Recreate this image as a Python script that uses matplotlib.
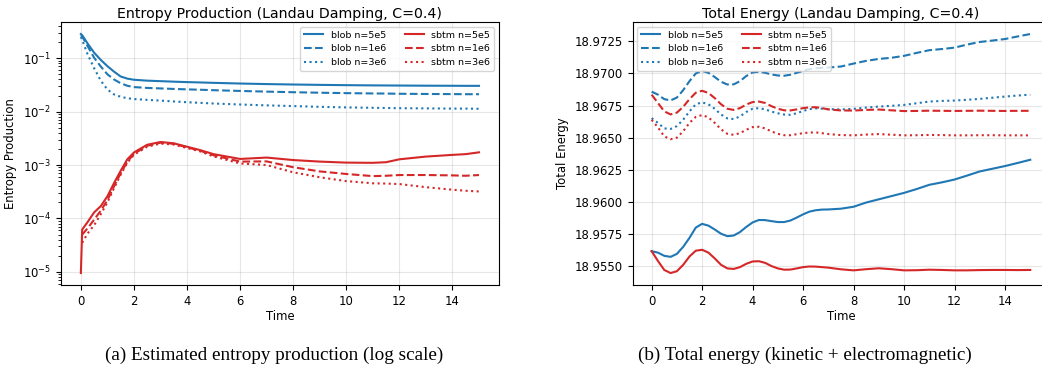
import numpy as np
import matplotlib
matplotlib.use("Agg")
import matplotlib.pyplot as plt
from matplotlib.ticker import MultipleLocator, FormatStrFormatter

# ---- entropy production ----
t_ent = [0, 0.05, 0.25, 0.5, 0.75, 1, 1.25, 1.5, 1.75, 2, 2.5, 3, 3.5, 4, 4.5, 5,
         6, 7, 8, 9, 10, 11, 11.5, 12, 13, 14, 14.5, 15]
nan = np.nan
ent_blob_5e5 = [0.284, 0.27, 0.19, 0.127, 0.093, 0.071, 0.056, 0.0455, 0.0415, 0.0395,
                0.038, 0.0372, 0.0364, 0.0357, 0.0352, 0.0346, 0.0336, 0.0328, 0.0322,
                0.0317, 0.0313, 0.031, 0.0309, 0.0308, 0.0306, 0.0305, 0.0304, 0.0304]
ent_blob_1e6 = [0.27, 0.255, 0.17, 0.102, 0.07, 0.05, 0.04, 0.034, 0.0305, 0.0288,
                0.0278, 0.0272, 0.0266, 0.0261, 0.0257, 0.0252, 0.0244, 0.0237, 0.0231,
                0.0226, 0.0222, 0.0219, 0.0218, 0.0216, 0.0214, 0.0213, 0.0212, 0.0212]
ent_blob_3e6 = [0.25, 0.22, 0.12, 0.065, 0.038, 0.026, 0.021, 0.019, 0.0178, 0.0172,
                0.0166, 0.0161, 0.0155, 0.015, 0.0146, 0.0142, 0.0136, 0.0131, 0.0127,
                0.0123, 0.012, 0.0118, 0.0117, 0.0116, 0.0115, 0.0114, 0.0114, 0.0113]
ent_sbtm_5e5 = [9.5e-6, 6.2e-5, 8.5e-5, 1.3e-4, 1.7e-4, 2.6e-4, 4.6e-4, 7.8e-4, 1.28e-3,
                1.72e-3, 2.4e-3, 2.7e-3, 2.55e-3, 2.2e-3, 1.9e-3, 1.6e-3, 1.3e-3, 1.38e-3,
                1.24e-3, 1.16e-3, 1.11e-3, 1.1e-3, 1.13e-3, 1.28e-3, 1.44e-3, 1.55e-3,
                1.6e-3, 1.73e-3]
ent_sbtm_1e6 = [nan, 5.0e-5, 6.5e-5, 9.5e-5, 1.4e-4, 2.2e-4, 4.0e-4, 7.0e-4, 1.15e-3,
                1.62e-3, 2.3e-3, 2.62e-3, 2.5e-3, 2.15e-3, 1.85e-3, 1.52e-3, 1.16e-3,
                1.17e-3, 9.1e-4, 7.6e-4, 6.8e-4, 6.2e-4, 6.3e-4, 6.5e-4, 6.5e-4, 6.4e-4,
                6.3e-4, 6.5e-4]
ent_sbtm_3e6 = [nan, 3.5e-5, 5.2e-5, 7.5e-5, 1.2e-4, 2.0e-4, 3.7e-4, 6.6e-4, 1.1e-3,
                1.56e-3, 2.2e-3, 2.52e-3, 2.42e-3, 2.08e-3, 1.8e-3, 1.45e-3, 1.07e-3,
                1.0e-3, 7.3e-4, 5.9e-4, 5.0e-4, 4.55e-4, 4.5e-4, 4.4e-4, 3.85e-4, 3.45e-4,
                3.3e-4, 3.2e-4]

# ---- total energy ----
t_en = [0, 0.25, 0.5, 0.75, 1, 1.25, 1.5, 1.75, 2, 2.25, 2.5, 2.75, 3, 3.25, 3.5, 3.75,
        4, 4.25, 4.5, 4.75, 5, 5.25, 5.5, 5.75, 6, 6.25, 6.5, 6.75, 7, 7.5, 8, 8.5, 9,
        9.5, 10, 10.5, 11, 11.5, 12, 12.5, 13, 13.5, 14, 14.5, 15]
en_blob_5e5 = [18.95616, 18.95605, 18.95580, 18.95572, 18.95595, 18.95650, 18.95720,
               18.95800, 18.95829, 18.95815, 18.95785, 18.95752, 18.95733, 18.95738,
               18.95765, 18.95805, 18.95840, 18.95859, 18.95858, 18.95850, 18.95843,
               18.95843, 18.95855, 18.95878, 18.95903, 18.95924, 18.95935, 18.95940,
               18.95941, 18.95947, 18.95962, 18.95995, 18.96020, 18.96045, 18.96070,
               18.96100, 18.96133, 18.96152, 18.96174, 18.96205, 18.96237, 18.96258,
               18.96279, 18.96303, 18.96328]
en_blob_1e6 = [18.96858, 18.96835, 18.96800, 18.96790, 18.96812, 18.96870, 18.96940,
               18.97000, 18.97020, 18.97005, 18.96972, 18.96935, 18.96914, 18.96915,
               18.96940, 18.96980, 18.97008, 18.97013, 18.97005, 18.96992, 18.96984,
               18.96982, 18.96990, 18.97005, 18.97020, 18.97033, 18.97040, 18.97044,
               18.97046, 18.97054, 18.97077, 18.97098, 18.97113, 18.97122, 18.97137,
               18.97160, 18.97181, 18.97190, 18.97201, 18.97225, 18.97245, 18.97256,
               18.97268, 18.97288, 18.97307]
en_blob_3e6 = [18.96652, 18.96615, 18.96572, 18.96568, 18.96590, 18.96640, 18.96705,
               18.96760, 18.96775, 18.96760, 18.96725, 18.96680, 18.96650, 18.96645,
               18.96665, 18.96700, 18.96725, 18.96730, 18.96720, 18.96703, 18.96690,
               18.96680, 18.96678, 18.96690, 18.96708, 18.96722, 18.96728, 18.96726,
               18.96722, 18.96720, 18.96724, 18.96734, 18.96742, 18.96748, 18.96755,
               18.96768, 18.96781, 18.96786, 18.96789, 18.96795, 18.96802, 18.96811,
               18.96820, 18.96828, 18.96835]
en_sbtm_5e5 = [18.95616, 18.95540, 18.95470, 18.95446, 18.95460, 18.95510, 18.95575,
               18.95620, 18.95627, 18.95605, 18.95560, 18.95510, 18.95482, 18.95478,
               18.95492, 18.95518, 18.95536, 18.95538, 18.95525, 18.95500, 18.95482,
               18.95472, 18.95473, 18.95482, 18.95492, 18.95497, 18.95496, 18.95492,
               18.95488, 18.95475, 18.95467, 18.95476, 18.95483, 18.95476, 18.95467,
               18.95468, 18.95472, 18.95470, 18.95467, 18.95467, 18.95469, 18.95470,
               18.95470, 18.95469, 18.95470]
en_sbtm_1e6 = [18.96835, 18.96770, 18.96705, 18.96681, 18.96695, 18.96740, 18.96800,
               18.96850, 18.96865, 18.96848, 18.96808, 18.96760, 18.96725, 18.96716,
               18.96730, 18.96758, 18.96777, 18.96781, 18.96770, 18.96745, 18.96725,
               18.96713, 18.96712, 18.96720, 18.96730, 18.96736, 18.96737, 18.96730,
               18.96720, 18.96712, 18.96711, 18.96716, 18.96719, 18.96713, 18.96707,
               18.96708, 18.96710, 18.96709, 18.96708, 18.96709, 18.96710, 18.96709,
               18.96708, 18.96709, 18.96709]
en_sbtm_3e6 = [18.96639, 18.96580, 18.96510, 18.96488, 18.96500, 18.96550, 18.96615,
               18.96662, 18.96676, 18.96658, 18.96615, 18.96565, 18.96530, 18.96522,
               18.96535, 18.96562, 18.96582, 18.96585, 18.96572, 18.96548, 18.96530,
               18.96519, 18.96519, 18.96527, 18.96535, 18.96540, 18.96541, 18.96535,
               18.96528, 18.96520, 18.96518, 18.96524, 18.96528, 18.96523, 18.96518,
               18.96519, 18.96521, 18.96520, 18.96518, 18.96518, 18.96519, 18.96519,
               18.96518, 18.96518, 18.96518]

labels = ["blob n=5e5", "blob n=1e6", "blob n=3e6", "sbtm n=5e5", "sbtm n=1e6", "sbtm n=3e6"]
blue = "#1f77b4"
red = "#d62728"
styles = ["-", "--", ":"]

fig = plt.figure(figsize=(10.42, 3.74), dpi=100)
ax1 = fig.add_axes([0.0585, 0.238, 0.4203, 0.703])
ax2 = fig.add_axes([0.6072, 0.238, 0.3997, 0.703])

ent = [ent_blob_5e5, ent_blob_1e6, ent_blob_3e6, ent_sbtm_5e5, ent_sbtm_1e6, ent_sbtm_3e6]
en = [en_blob_5e5, en_blob_1e6, en_blob_3e6, en_sbtm_5e5, en_sbtm_1e6, en_sbtm_3e6]
for i in range(6):
    c = blue if i < 3 else red
    ls = styles[i % 3]
    ax1.plot(t_ent, ent[i], color=c, ls=ls, lw=1.5, label=labels[i])
    ax2.plot(t_en, en[i], color=c, ls=ls, lw=1.5, label=labels[i])

ax1.set_yscale("log")
ax1.set_title("Entropy Production (Landau Damping, C=0.4)", fontsize=10.2, pad=3)
ax1.set_ylabel("Entropy Production", fontsize=8.4)
ax2.set_title("Total Energy (Landau Damping, C=0.4)", fontsize=10.2, pad=3)
ax2.set_ylabel("Total Energy", fontsize=8.4)
ax2.yaxis.set_major_locator(MultipleLocator(0.0025))
ax2.yaxis.set_major_formatter(FormatStrFormatter("%.4f"))

for ax in (ax1, ax2):
    ax.set_xlabel("Time", fontsize=8.4, labelpad=2)
    ax.tick_params(labelsize=8.4)
    ax.grid(True, alpha=0.3)
    ax.set_xticks([0, 2, 4, 6, 8, 10, 12, 14])

ax1.legend(loc="upper right", ncol=2, fontsize=6.8)
ax2.legend(loc="upper left", ncol=2, fontsize=6.8)

fig.text(0.2634, 0.051, "(a) Estimated entropy production (log scale)",
         ha="center", va="center", family="Liberation Serif", fontsize=13.8)
fig.text(0.7726, 0.051, "(b) Total energy (kinetic + electromagnetic)",
         ha="center", va="center", family="Liberation Serif", fontsize=13.8)

fig.savefig("out.png", dpi=100)
